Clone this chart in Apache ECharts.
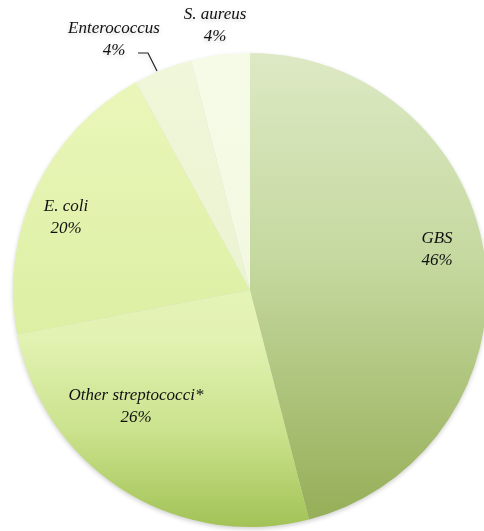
<!DOCTYPE html>
<html>
<head>
<meta charset="utf-8">
<style>
  html, body { margin: 0; padding: 0; background: #ffffff; }
  #chart { width: 484px; height: 531px; filter: drop-shadow(0 2px 2px rgba(0,0,0,0.18)); }
</style>
<script src="https://cdn.jsdelivr.net/npm/echarts@6/dist/echarts.min.js"></script>
</head>
<body>
<div id="chart"></div>
<script>
// Organisms and their share of isolates (%)
const organisms = ['GBS', 'Other streptococci*', 'E. coli', 'Enterococcus', 'S. aureus'];
const shares = [46, 26, 20, 4, 4];

// Vertical shading of each slice: colour stops along the pie's height
const sliceShades = [
  [[0, '#dde9c4'], [0.45, '#c4d89e'], [1, '#94ad55']],
  [[0, '#eef8cc'], [0.6, '#e2f2b2'], [0.8, '#cae28c'], [1, '#a2c256']],
  [[0, '#ebf7bc'], [1, '#d2ea92']],
  [[0, '#f0f7da'], [1, '#e6f0c8']],
  [[0, '#f6fbe8'], [1, '#eef6d8']]
];

// Label centres in pixels, and the leader line for Enterococcus
const labelSpots = [[437, 250], [136, 407], [66, 218], [114, 40], [215, 26]];
const leader = [[157, 71], [148, 53], [138, 53]];

const PIE_TOP = 53, PIE_BOTTOM = 528;

const chart = echarts.init(document.getElementById('chart'), null, { renderer: 'canvas' });

const labelFont = {
  fontFamily: '"Liberation Serif", "DejaVu Serif", serif',
  fontStyle: 'italic',
  fontSize: 17,
  lineHeight: 22,
  color: '#111111',
  align: 'center',
  overflow: 'none'
};

const data = organisms.map((name, i) => ({
  name: name,
  value: shares[i],
  itemStyle: {
    color: new echarts.graphic.LinearGradient(0, PIE_TOP, 0, PIE_BOTTOM,
      sliceShades[i].map(s => ({ offset: s[0], color: s[1] })), true)
  },
  label: Object.assign({ position: i === 3 ? 'outside' : 'inside' }, labelFont),
  labelLine: { show: i === 3 }
}));

chart.setOption({
  animation: false,
  backgroundColor: 'transparent',
  series: [{
    type: 'pie',
    center: [250, 290],
    radius: [0, 237],
    startAngle: 90,
    clockwise: true,
    data: data,
    itemStyle: { borderWidth: 0 },
    label: Object.assign({ show: true, formatter: '{b}\n{c}%' }, labelFont),
    labelLine: {
      show: false,
      lineStyle: { color: '#222222', width: 1.2 }
    },
    labelLayout: function (params) {
      const p = labelSpots[params.dataIndex];
      const out = { x: p[0], y: p[1], align: 'center', verticalAlign: 'middle' };
      if (params.dataIndex === 3) out.labelLinePoints = leader;
      return out;
    },
    emphasis: { disabled: true }
  }]
});
</script>
</body>
</html>
